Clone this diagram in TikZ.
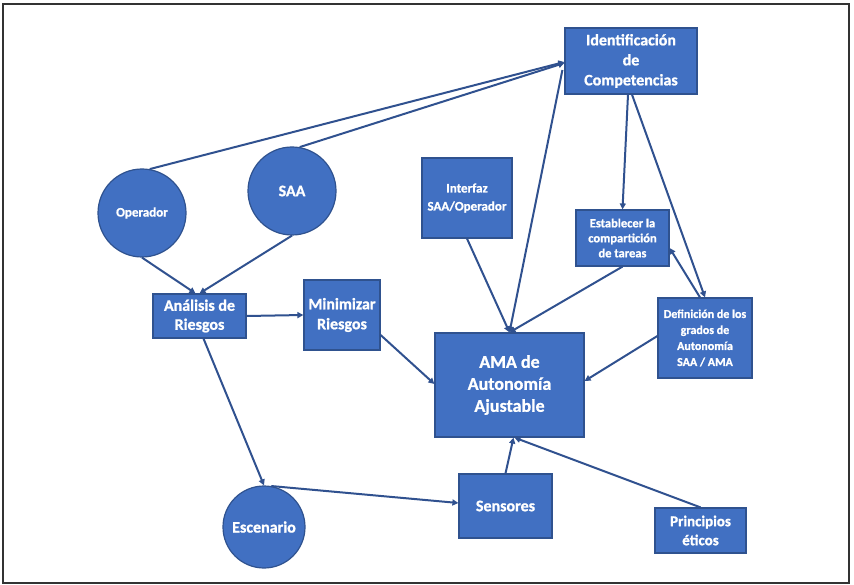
\documentclass[tikz,border=0pt]{standalone}
\usepackage{fontspec}
\setmainfont{Carlito}[BoldFeatures={FakeBold=1}]
\usetikzlibrary{arrows.meta}
\definecolor{boxfill}{HTML}{4170C2}
\definecolor{boxedge}{HTML}{2F528F}
\definecolor{wire}{HTML}{30518F}
\definecolor{framegray}{HTML}{333333}
\newcommand{\fs}[2]{\fontsize{#1}{#2}\selectfont\bfseries}
\begin{document}
\begin{tikzpicture}[x=1pt,y=-1pt,
  box/.style={draw=boxedge, fill=boxfill, line width=1.2pt, text=white,
    align=center, inner sep=1pt},
  disc/.style={circle, draw=boxedge, fill=boxfill, line width=1.2pt,
    text=white, align=center, inner sep=0pt},
  link/.style={draw=wire, line width=2pt, -{Triangle[length=6pt,width=6pt]}}]
\useasboundingbox (0,0) rectangle (854,585);
\draw[framegray, line width=2pt] (3,4) rectangle (849,583);

% boxes and circles
\node[box, minimum width=132pt, minimum height=66pt, font=\fs{16}{20}] (id) at (631,61)
  {Identificación\\de\\Competencias};
\node[disc, minimum size=88pt, font=\fs{13}{15}] (op) at (142,213) {Operador};
\node[disc, minimum size=88pt, font=\fs{16}{19}] (saa) at (292,191) {SAA};
\node[box, minimum width=90pt, minimum height=80pt, font=\fs{13}{18}] (int) at (467,198)
  {Interfaz\\SAA/Operador};
\node[box, minimum width=93pt, minimum height=56pt, font=\fs{12.5}{15}] (est) at (622.5,238)
  {Establecer la\\compartición\\de tareas};
\node[box, minimum width=93pt, minimum height=44pt, font=\fs{16}{19}] (an) at (199.5,316)
  {Análisis de\\Riesgos};
\node[box, minimum width=76pt, minimum height=70pt, font=\fs{16}{20}] (mn) at (342,315)
  {Minimizar\\Riesgos};
\node[box, minimum width=149pt, minimum height=104pt, font=\fs{18}{22}] (ama) at (509.5,385)
  {AMA de\\Autonomía\\Ajustable};
\node[box, minimum width=94pt, minimum height=80pt, font=\fs{12}{16}] (def) at (705,338)
  {Definición de los\\grados de\\Autonomía\\SAA / AMA};
\node[disc, minimum size=82pt, font=\fs{16}{19}] (esc) at (264,527) {Escenario};
\node[box, minimum width=93pt, minimum height=64pt, font=\fs{16}{19}] (sen) at (505.5,506)
  {Sensores};
\node[box, minimum width=91pt, minimum height=45pt, font=\fs{15}{19}] (pri) at (700.5,530.5)
  {Principios\\éticos};

% connectors
\draw[link] (op.80) -- ([yshift=-1pt]id.west);
\draw[link] (saa.80) -- ([yshift=-2pt]id.west);
\draw[link] ([xshift=-2pt,yshift=-9pt]id.west) -- (ama.north);
\draw[link] ([xshift=-3pt]id.south) -- (est.north);
\draw[link] ([xshift=1pt]id.south) -- (def.north);
\draw[link] ([xshift=-5pt]def.north) -- ([yshift=-10pt]est.east);
\draw[link] (est.south) -- (ama.north);
\draw[link] (int.south) -- (ama.north);
\draw[link] ([yshift=2pt]def.west) -- ([yshift=4pt]ama.east);
\draw[link] (op.south) -- ([xshift=-4pt]an.north);
\draw[link] (saa.south) -- (an.north);
\draw[link] (an.east) -- (mn.west);
\draw[link] ([yshift=-20pt]mn.east) -- ([yshift=1pt]ama.west);
\draw[link] ([xshift=4pt]an.south) -- (esc.north);
\draw[link] (esc.80) -- ([yshift=3pt]sen.west);
\draw[link] (sen.north) -- ([xshift=4pt]ama.south);
\draw[link] (pri.north) -- ([xshift=5pt]ama.south);
\end{tikzpicture}
\end{document}
